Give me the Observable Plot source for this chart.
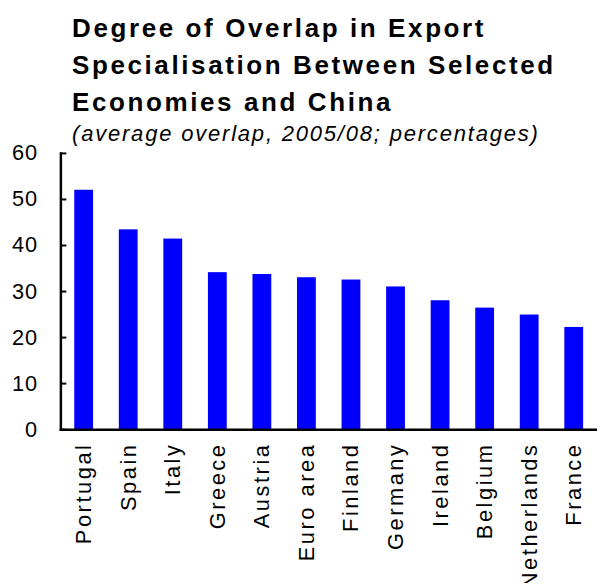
<!DOCTYPE html>
<html><head><meta charset="utf-8">
<script src="https://cdn.jsdelivr.net/npm/d3@7"></script>
<script src="https://cdn.jsdelivr.net/npm/@observablehq/plot@0.6"></script>
<style>
body{margin:0;background:#fff;overflow:hidden;font-family:"Liberation Sans",Arial,sans-serif;color:#000;}
#title{padding-top:10px;padding-left:72px;font-weight:bold;font-size:26px;line-height:37px;letter-spacing:2.6px;white-space:pre;}
#subtitle{padding-left:72px;font-style:italic;font-size:22px;line-height:24px;height:24px;margin-top:1px;letter-spacing:1.8px;white-space:pre;}
#chart svg{overflow:visible;display:block;}
#chart svg g[aria-label="x-axis tick label"] text{letter-spacing:2.6px;}
#chart svg g[aria-label="y-axis tick label"] text{letter-spacing:1px;}
</style></head><body>
<div id="title">Degree of Overlap in Export
Specialisation Between Selected
Economies and China</div>
<div id="subtitle">(average overlap, 2005/08; percentages)</div>
<div id="chart"></div>
<script>
const countries = ["Portugal","Spain","Italy","Greece","Austria","Euro area","Finland","Germany","Ireland","Belgium","Netherlands","France"];
const overlap = [52.0, 43.4, 41.4, 34.1, 33.7, 33.0, 32.5, 31.0, 28.0, 26.4, 24.9, 22.2];
const yTicks = [0, 10, 20, 30, 40, 50, 60];
const data = countries.map((c, i) => ({country: c, value: overlap[i]}));
const chart = Plot.plot({
  width: 603, height: 441, marginLeft: 61, marginRight: 0, marginTop: 7, marginBottom: 155,
  style: {fontFamily: "Liberation Sans, Arial, sans-serif", fontSize: "21px", color: "#000", background: "transparent", overflow: "visible"},
  x: {domain: countries, paddingInner: 0.58, paddingOuter: 0.29, label: null},
  y: {domain: [0, 60], label: null},
  marks: [
    Plot.barY(data, {x: "country", y: "value", fill: "#0000ff"}),
    Plot.axisY({ticks: yTicks, tickSize: -6, tickPadding: 29, strokeWidth: 2, fontSize: 22}),
    Plot.axisX({tickSize: 0, tickRotate: -90, tickPadding: 13, fontSize: 22}),
    Plot.frame({anchor: "left", strokeWidth: 2.5}),
    Plot.frame({anchor: "bottom", strokeWidth: 2.5})
  ]
});
document.getElementById("chart").appendChild(chart);
</script>
</body></html>
